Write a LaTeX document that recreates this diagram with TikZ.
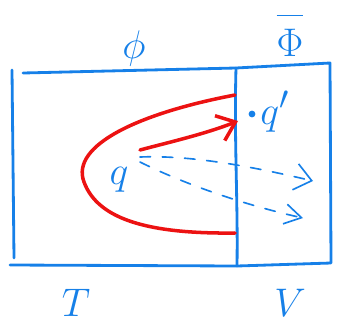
\documentclass[tikz,border=0pt]{standalone}
\usetikzlibrary{positioning,arrows.meta}
\definecolor{penblue}{RGB}{22,128,232}
\definecolor{penred}{RGB}{236,18,18}

\begin{document}
\begin{tikzpicture}[
  x=0.03cm, y=-0.03cm,
  ink/.style={penblue, line width=2.4pt, line cap=round, line join=round},
  redink/.style={penred, line width=3pt, line cap=round, line join=round},
  hint/.style={penblue, line width=1.4pt, line cap=round, dash pattern=on 9pt off 10pt},
  lbl/.style={penblue, inner sep=0pt, font=\Huge, scale=1.37, transform shape},
  chev/.style={-{Straight Barb[length=5mm, width=8mm]}},
  chevb/.style={-{Straight Barb[length=5mm, width=6mm]}}
]
\useasboundingbox (0,0) rectangle (337,330);

% corners of the region
\coordinate (nw) at (23,73);
\coordinate (nm) at (236,68);
\coordinate (ne) at (330,63);
\coordinate (se) at (331,263);
\coordinate (sm) at (237,266);
\coordinate (sw) at (10,265);

\draw[ink] (nw) -- (nm) -- (ne) -- (se) -- (sm) -- (sw);
\draw[ink] (12,70) -- (14,258);
\draw[ink] (nm) .. controls (234,140) and (238,200) .. (sm);

% labels
\node[lbl, anchor=base] (phi) at (134,58) {$\phi$};
\node[lbl, anchor=base] (phibar) at (290,56) {$\overline{\rule{0pt}{0.95em}\Phi}$};
\node[lbl, anchor=base] (tlab) at (76,316) {$T$};
\node[lbl, anchor=base] (vlab) at (290,316) {$V$};

% points
\node[lbl, anchor=base] (q) at (119,184) {$q$};
\fill[penblue] (252,114) circle (3.4) coordinate (qdot);
\node[lbl, anchor=base west] (qp) at (260,124) {$q'$};

% red region
\draw[redink] (235,95) .. controls (140,113) and (70,145) .. (84,182)
  .. controls (98,220) and (150,234) .. (235,233);
\coordinate (rs) at (140,150);
\coordinate (re) at (238,121);
\draw[redink, chev] (rs) .. controls (170,142) and (205,134) .. (re);

% dashed guesses
\coordinate (d1s) at (140,157);
\coordinate (d1e) at (313,181);
\coordinate (d2s) at (140,162);
\coordinate (d2e) at (303,218);
\draw[hint, chev] (d1s) .. controls (190,155) and (250,166) .. (d1e);
\draw[hint, chevb] (d2s) .. controls (180,182) and (240,204) .. (d2e);
\end{tikzpicture}
\end{document}
